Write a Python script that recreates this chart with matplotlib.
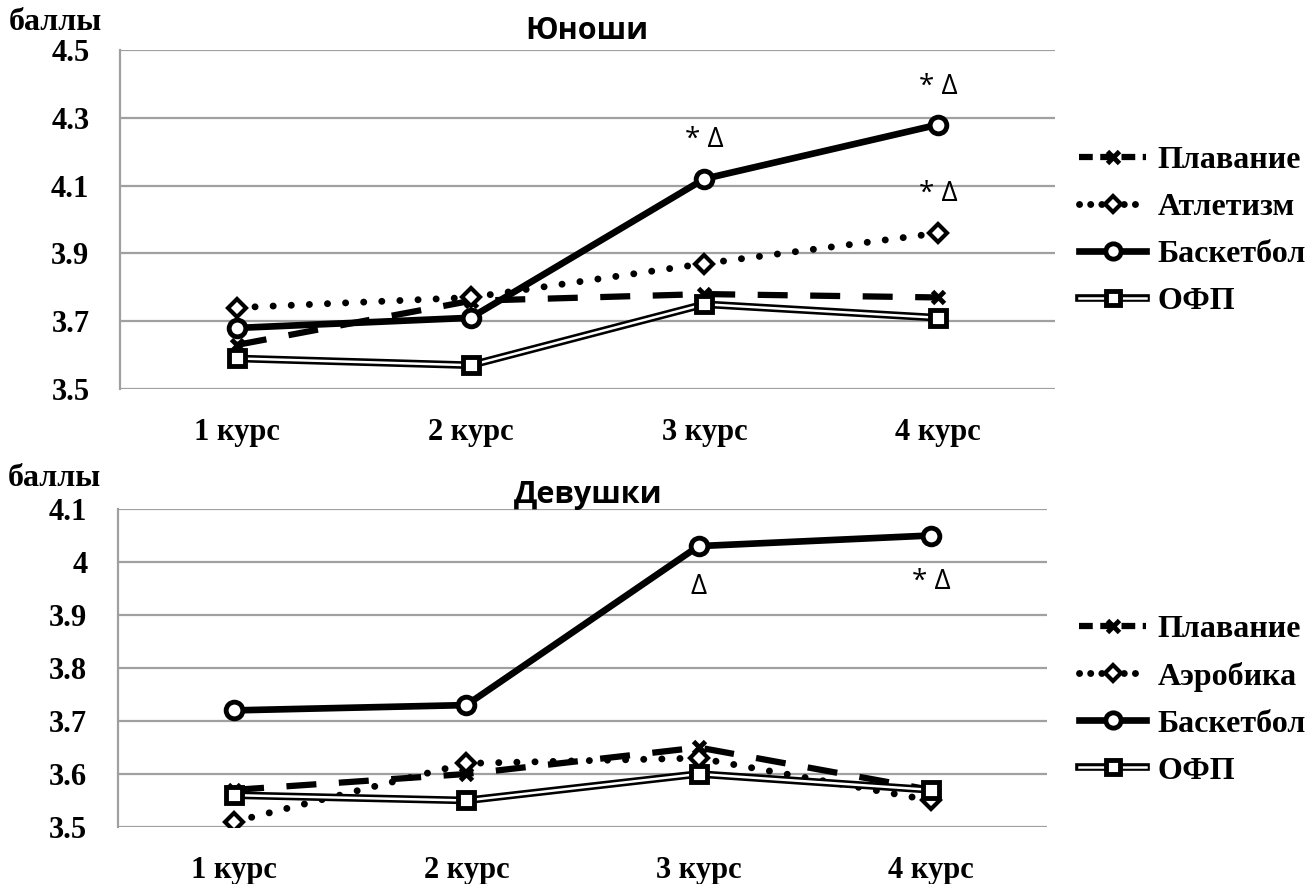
import matplotlib.pyplot as plt
from matplotlib.lines import Line2D
from matplotlib.legend_handler import HandlerTuple

courses = ["1 курс", "2 курс", "3 курс", "4 курс"]

# Юноши
boys_swim = [3.63, 3.76, 3.78, 3.77]
boys_athl = [3.74, 3.77, 3.87, 3.96]
boys_bask = [3.68, 3.71, 4.12, 4.28]
boys_ofp = [3.59, 3.57, 3.75, 3.71]

# Девушки
girls_swim = [3.57, 3.60, 3.65, 3.57]
girls_aero = [3.51, 3.62, 3.63, 3.55]
girls_bask = [3.72, 3.73, 4.03, 4.05]
girls_ofp = [3.56, 3.55, 3.60, 3.57]

serif = "Liberation Serif"
sans = "Open Sans"

fig = plt.figure(figsize=(13.09, 8.84), dpi=100)
ax1 = fig.add_axes([0.0917, 0.560, 0.7143, 0.3834])
ax2 = fig.add_axes([0.0901, 0.0645, 0.7097, 0.3597])

dash = (0, (4.8, 3.6))
dots = (0, (0.01, 2.6))


def draw(ax, swim, second, bask, ofp, second_name, yticks, yticklabels, leg_y):
    x = range(len(courses))
    ax.plot(x, swim, color="black", lw=4.5, ls=dash, marker="x",
            ms=9, mew=3.5, zorder=3)
    ax.plot(x, second, color="black", lw=5, ls=dots,
            dash_capstyle="round", marker="D", ms=9, mfc="white", mec="black",
            mew=3, zorder=3)
    ax.plot(x, bask, color="black", lw=4.8, marker="o", ms=12, mfc="white",
            mec="black", mew=3.5, zorder=4)
    ax.plot(x, ofp, color="black", lw=5.5, zorder=3)
    ax.plot(x, ofp, color="white", lw=1.8, zorder=3)
    ax.plot(x, ofp, ls="none", marker="s", ms=11, mfc="white", mec="black",
            mew=3.5, zorder=4)

    ax.set_xlim(-0.5, 3.5)
    ax.set_ylim(yticks[0], yticks[-1])
    ax.set_yticks(yticks)
    ax.set_yticklabels(yticklabels, fontfamily=serif, fontweight="bold",
                       fontsize=22)
    ax.set_xticks(list(x))
    ax.set_xticklabels(courses, fontfamily=serif, fontweight="bold",
                       fontsize=22)
    ax.tick_params(length=0)
    ax.tick_params(axis="x", pad=21)
    ax.tick_params(axis="y", pad=22)
    ax.grid(axis="y", color="#a0a0a0", lw=1.6)
    ax.set_axisbelow(True)
    for s in ["top", "right", "bottom"]:
        ax.spines[s].set_visible(False)
    ax.spines["left"].set_color("#a0a0a0")
    ax.spines["left"].set_linewidth(1.6)

    h_swim = Line2D([], [], color="black", lw=4.5, ls=(0, (2.2, 1.2)),
                    marker="x", ms=8, mew=3.5)
    h_second = Line2D([], [], color="black", lw=5, ls=(0, (0.01, 1.6)),
                      dash_capstyle="round", marker="D", ms=8, mfc="white",
                      mec="black", mew=3)
    h_bask = Line2D([], [], color="black", lw=4.8, marker="o", ms=11,
                    mfc="white", mec="black", mew=3.5)
    h_o1 = Line2D([], [], color="black", lw=5.5)
    h_o2 = Line2D([], [], color="white", lw=1.8)
    h_o3 = Line2D([], [], ls="none", marker="s", ms=10, mfc="white",
                  mec="black", mew=3.5)
    ax.legend([h_swim, h_second, h_bask, (h_o1, h_o2, h_o3)],
              ["Плавание", second_name, "Баскетбол", "ОФП"],
              handler_map={tuple: HandlerTuple(ndivide=1, pad=0)},
              loc="center left", bbox_to_anchor=(1079 / 1309, leg_y),
              bbox_transform=fig.transFigure, borderaxespad=0, borderpad=0,
              frameon=False, handlelength=2.1, handletextpad=0.35,
              labelspacing=0.55,
              prop={"family": serif, "weight": "bold", "size": 23})


draw(ax1, boys_swim, boys_athl, boys_bask, boys_ofp, "Атлетизм",
     [3.5, 3.7, 3.9, 4.1, 4.3, 4.5], ["3.5", "3.7", "3.9", "4.1", "4.3", "4.5"],
     0.739)
draw(ax2, girls_swim, girls_aero, girls_bask, girls_ofp, "Аэробика",
     [3.5, 3.6, 3.7, 3.8, 3.9, 4.0, 4.1],
     ["3.5", "3.6", "3.7", "3.8", "3.9", "4", "4.1"], 0.208)

# significance marks
mark = dict(ha="center", va="center", fontsize=20, fontfamily=sans)
ax1.text(2, 4.235, "* Δ", **mark)
ax1.text(3, 4.39, "* Δ", **mark)
ax1.text(3, 4.075, "* Δ", **mark)
ax2.text(2, 3.952, "Δ", **mark)
ax2.text(3, 3.962, "* Δ", **mark)

fig.text(0.448, 0.965, "Юноши", ha="center", va="center", fontsize=22,
         fontweight="bold", fontfamily=sans)
fig.text(0.449, 0.440, "Девушки", ha="center", va="center", fontsize=22,
         fontweight="bold", fontfamily=sans)
fig.text(0.007, 0.975, "баллы", ha="left", va="center", fontsize=23,
         fontweight="bold", fontfamily=serif)
fig.text(0.006, 0.459, "баллы", ha="left", va="center", fontsize=23,
         fontweight="bold", fontfamily=serif)

fig.savefig("out.png", dpi=100)
